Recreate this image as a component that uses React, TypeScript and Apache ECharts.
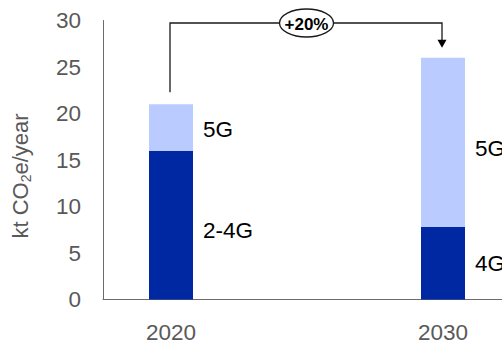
import React, { useEffect, useRef } from "react";
import * as echarts from "echarts";

const years = ["2020", "2030"];
const lowerNames = ["2-4G", "4G"];
const lowerValues = [16, 7.8];
const upperNames = ["5G", "5G"];
const upperValues = [5, 18.2];
const yTicks = [0, 5, 10, 15, 20, 25, 30];
const growthLabel = "+20%";

const DARK = "#0028A3";
const LIGHT = "#BACBFF";
const GRAY = "#595959";
const FONT = "Liberation Sans, Arial, sans-serif";

export default function App() {
  const ref = useRef<HTMLDivElement>(null);
  useEffect(() => {
    document.body.style.margin = "0";
    if (!ref.current) return;
    const chart = echarts.init(ref.current, undefined, { renderer: "svg" });
    // spacer category between the two years to reproduce the wide gap
    const cats = [years[0], "", years[1]];
    const lower = [lowerValues[0], null, lowerValues[1]];
    const upper = [upperValues[0], null, upperValues[1]];
    const lowerLabelOffsets = [[0, 5], [0, 0]];
    const upperLabelOffsets = [[0, 2], [0, 6]];
    const mkLabel = (names: string[], offsets: number[][], i: number) => ({
      show: true,
      position: "right",
      distance: 10,
      offset: offsets[i],
      formatter: names[i],
      color: "#000",
      fontSize: 22.5,
      fontFamily: FONT,
    });
    chart.setOption({
      animation: false,
      grid: { left: 103, top: 20.5, bottom: 47.5, width: 408, outerBoundsMode: "none", containLabel: false },
      xAxis: {
        type: "category",
        data: cats,
        axisLine: { lineStyle: { color: "#6b6b6b", width: 1 } },
        axisTick: { show: false },
        axisLabel: { color: GRAY, fontSize: 22.5, fontFamily: FONT, margin: 21 },
      },
      yAxis: {
        type: "value",
        min: yTicks[0],
        max: yTicks[yTicks.length - 1],
        interval: yTicks[1] - yTicks[0],
        axisLine: { show: true, lineStyle: { color: "#6b6b6b", width: 1 } },
        axisTick: { show: false },
        splitLine: { show: false },
        axisLabel: { color: GRAY, fontSize: 22.5, fontFamily: FONT, margin: 22 },
      },
      series: [
        {
          type: "bar",
          stack: "t",
          barWidth: 44,
          data: lower.map((v, i) =>
            v == null
              ? null
              : { value: v, label: mkLabel(lowerNames, lowerLabelOffsets, i === 0 ? 0 : 1) }
          ),
          itemStyle: { color: DARK },
        },
        {
          type: "bar",
          stack: "t",
          barWidth: 44,
          data: upper.map((v, i) =>
            v == null
              ? null
              : { value: v, label: mkLabel(upperNames, upperLabelOffsets, i === 0 ? 0 : 1) }
          ),
          itemStyle: { color: LIGHT },
        },
      ],
    });

    const total0 = lowerValues[0] + upperValues[0];
    const total1 = lowerValues[1] + upperValues[1];
    const p0 = chart.convertToPixel({ gridIndex: 0 }, [years[0], total0]) as number[];
    const p1 = chart.convertToPixel({ gridIndex: 0 }, [years[1], total1]) as number[];
    const x0 = p0[0] - 1;
    const x1 = p1[0] - 1;
    const yTop = 23;
    const yStart = p0[1] - 12;
    const yTip = p1[1] - 10;
    const mid = (x0 + x1) / 2 + 0.5;
    chart.setOption({
      graphic: [
        {
          type: "polyline",
          shape: { points: [[x0, yStart], [x0, yTop], [x1, yTop], [x1, yTip - 7]] },
          style: { stroke: "#1a1a1a", lineWidth: 1.3, fill: null },
          z: 10,
        },
        {
          type: "polygon",
          shape: { points: [[x1 - 4.5, yTip - 8], [x1 + 4.5, yTip - 8], [x1, yTip]] },
          style: { fill: "#000" },
          z: 10,
        },
        {
          type: "ellipse",
          shape: { cx: mid, cy: yTop, rx: 27, ry: 14 },
          style: { fill: "#fff", stroke: "#1a1a1a", lineWidth: 1.3 },
          z: 11,
        },
        {
          type: "text",
          x: mid,
          y: yTop + 1,
          style: {
            text: growthLabel,
            fontSize: 17,
            fontWeight: "bold",
            fontFamily: FONT,
            fill: "#000",
            align: "center",
            verticalAlign: "middle",
          },
          z: 12,
        },
        {
          type: "text",
          x: 20,
          y: 176,
          rotation: Math.PI / 2,
          style: {
            text: "{a|kt CO}{s|2}{a|e/year}",
            align: "center",
            verticalAlign: "middle",
            rich: {
              a: { fontSize: 22, fontFamily: FONT, fill: GRAY, lineHeight: 26 },
              s: { fontSize: 14, fontFamily: FONT, fill: GRAY, lineHeight: 26, verticalAlign: "bottom", padding: [12, 0, 0, 0] },
            },
          },
          z: 10,
        },
      ],
    });
    return () => chart.dispose();
  }, []);
  return <div ref={ref} style={{ width: 502, height: 347 }} />;
}
